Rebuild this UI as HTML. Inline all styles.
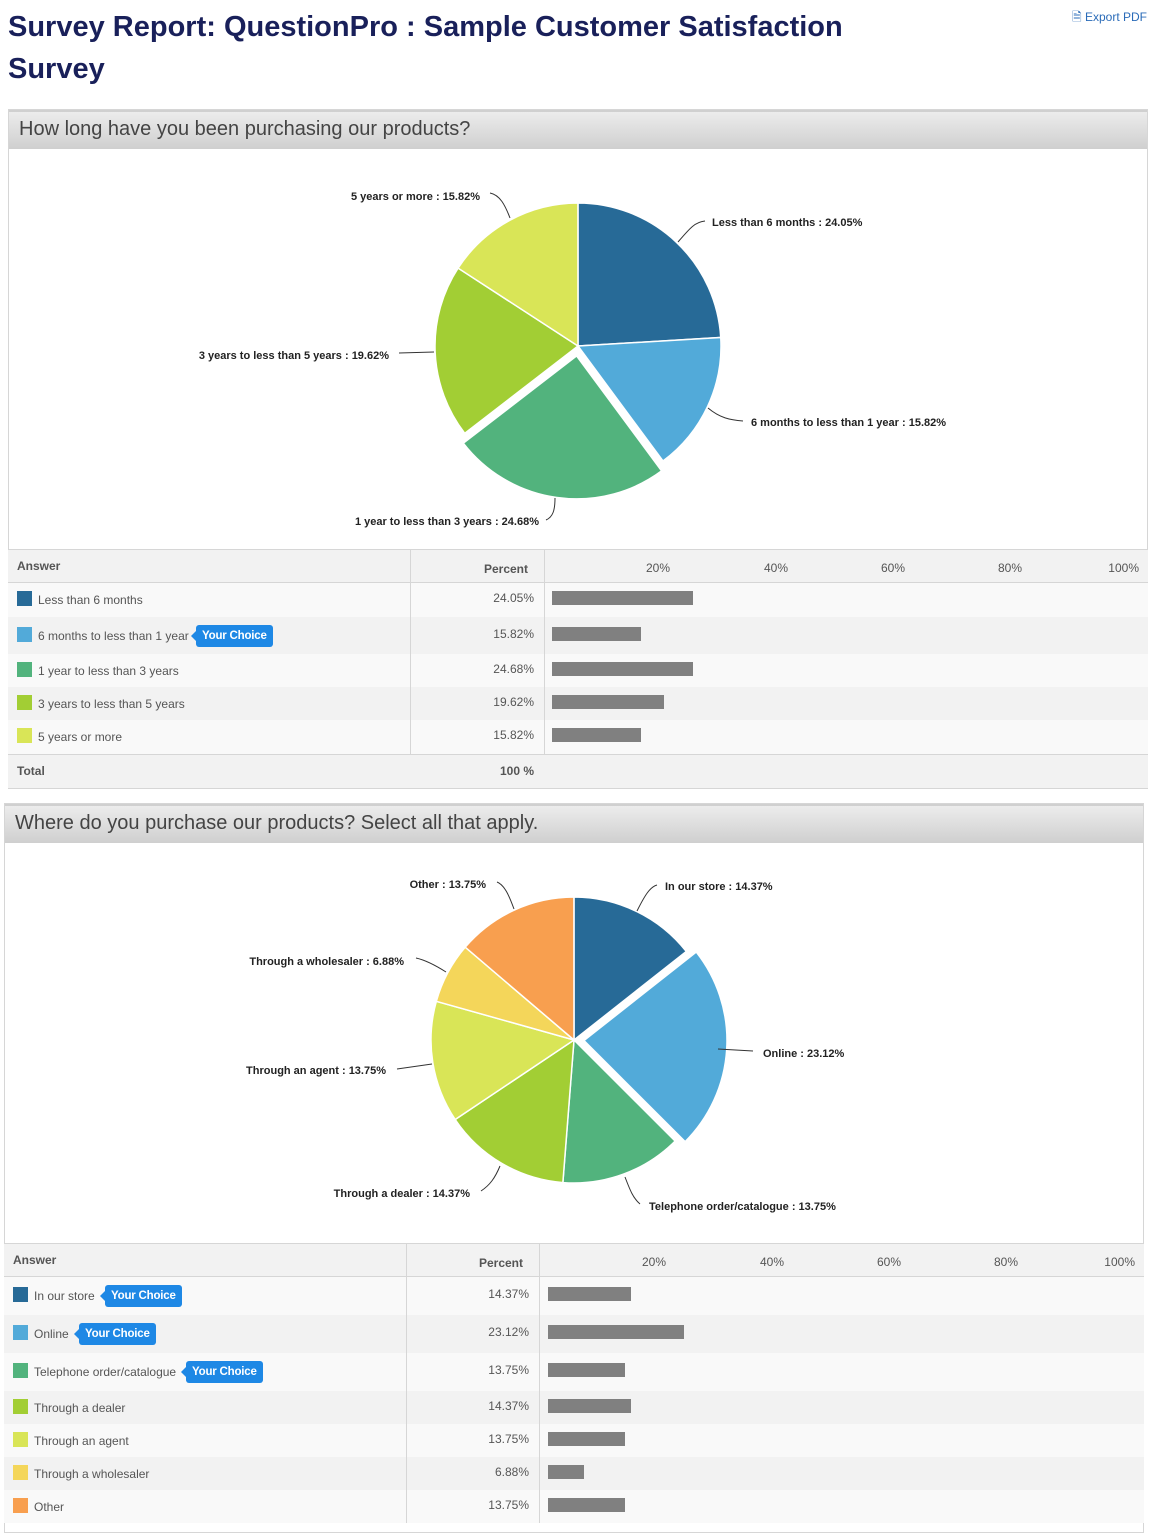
<!DOCTYPE html>
<html><head><meta charset="utf-8"><style>
*{box-sizing:border-box}
body{margin:0;width:1155px;height:1528px;background:#fff;font-family:"Liberation Sans",Arial,sans-serif;position:relative;overflow:hidden}
.abs{position:absolute}
h1{position:absolute;left:8px;top:6px;margin:0;font-size:29px;line-height:42px;color:#19205a;font-weight:bold;width:900px}
.exp{position:absolute;right:8px;top:8px;font-size:12px;color:#2a6bb8}
.box{position:absolute;border:1px solid #d6d6d6;background:#fff}
.qh{position:absolute;left:0;right:0;top:0;height:39px;background:linear-gradient(#ececec,#cfcfcf);border-top:2px solid #d0d0d0;font-size:20px;color:#444;padding:3px 10px;line-height:28px}
.sw{position:absolute;width:15px;height:15px}
.lab{position:absolute;white-space:nowrap}
.pct{position:absolute;text-align:right}
.bar{position:absolute;height:14px;background:#808080}
.vl{position:absolute;width:1px;background:#d6d6d6}
.yc{position:absolute;background:#1e88e5;color:#fff;font-weight:bold;font-size:11.5px;border-radius:3px;padding:0 6px;height:22px;line-height:22px;letter-spacing:-0.2px}
.yc:before{content:"";position:absolute;left:-5px;top:6px;border-right:5px solid #1e88e5;border-top:5px solid transparent;border-bottom:5px solid transparent}
.tick{position:absolute;font-size:12px;color:#555;width:60px;text-align:right}
svg text{font-family:"Liberation Sans",Arial,sans-serif;font-size:11px;font-weight:bold;fill:#222}
</style></head><body>
<h1>Survey Report: QuestionPro : Sample Customer Satisfaction Survey</h1>
<div class="exp">&#128462; Export PDF</div>

<div class="box" style="left:8px;top:109px;width:1140px;height:680px">
 <div class="qh">How long have you been purchasing our products?</div>
</div>
<div class="box" style="left:4px;top:803px;width:1140px;height:730px">
 <div class="qh">Where do you purchase our products? Select all that apply.</div>
</div>

<svg id="s" class="abs" style="left:0;top:0" width="1155" height="1528"></svg>

<div id="t"></div>

<script>
var svg=document.getElementById('s'),NS='http://www.w3.org/2000/svg';
function el(n,a,p){var e=document.createElementNS(NS,n);for(var k in a)e.setAttribute(k,a[k]);(p||svg).appendChild(e);return e}
function pie(cx,cy,r,data){var a=-Math.PI/2;data.forEach(function(d){var s=d[1]/100*2*Math.PI,a2=a+s,m=a+s/2,ox=0,oy=0;if(d[2]){ox=10*Math.cos(m);oy=10*Math.sin(m)}
var x=cx+ox,y=cy+oy;var p='M'+x+','+y+'L'+(x+r*Math.cos(a))+','+(y+r*Math.sin(a))+'A'+r+','+r+' 0 '+(s>Math.PI?1:0)+' 1 '+(x+r*Math.cos(a2))+','+(y+r*Math.sin(a2))+'Z';
el('path',{d:p,fill:d[0],stroke:'#fff','stroke-width':1.5});a=a2})}
pie(578,346,143,[['#276a97',24.05],['#52aad9',15.82],['#52b37d',24.68,1],['#a2ce34',19.62],['#d9e557',15.82]]);
pie(574,1040,143,[['#276a97',14.37],['#52aad9',23.12,1],['#52b37d',13.75],['#a2ce34',14.37],['#d9e557',13.75],['#f4d65a',6.88],['#f89f4f',13.75]]);
function L(d){el('path',{d:d,fill:'none',stroke:'#333','stroke-width':1})}
function T(x,y,s,a){var t=el('text',{x:x,y:y,'text-anchor':a||'start'});t.textContent=s}
L('M490,193 C500,195 505,205 510,218');T(480,200,'5 years or more : 15.82%','end');
L('M678,242 C690,228 695,222 705,221');T(712,226,'Less than 6 months : 24.05%');
L('M399,353 L434,352');T(389,359,'3 years to less than 5 years : 19.62%','end');
L('M708,408 C720,418 730,420 743,421');T(751,426,'6 months to less than 1 year : 15.82%');
L('M555,498 C555,510 553,517 546,520');T(539,525,'1 year to less than 3 years : 24.68%','end');
L('M497,882 C505,885 510,898 514,909');T(486,888,'Other : 13.75%','end');
L('M637,911 C645,895 650,887 657,885');T(665,890,'In our store : 14.37%');
L('M416,958 C425,960 435,965 446,972');T(404,965,'Through a wholesaler : 6.88%','end');
L('M718,1049 L753,1051');T(763,1057,'Online : 23.12%');
L('M397,1069 L432,1064');T(386,1074,'Through an agent : 13.75%','end');
L('M481,1191 C490,1185 495,1178 500,1166');T(470,1197,'Through a dealer : 14.37%','end');
L('M625,1177 C630,1190 633,1198 640,1204');T(649,1210,'Telephone order/catalogue : 13.75%');

var h='';
function table(x0,w,top,c1,c2,bx,ticks,rows,total){
 var hh=34;
 h+='<div class="abs" style="left:'+x0+'px;top:'+top+'px;width:'+w+'px;height:'+hh+'px;background:#f2f2f2;border-top:1px solid #d6d6d6;border-bottom:1px solid #d6d6d6"></div>';
 h+='<div class="lab" style="left:'+(x0+9)+'px;top:'+(top+10)+'px;font-size:12px;font-weight:bold;color:#555">Answer</div>';
 h+='<div class="pct" style="left:'+(c2-72)+'px;width:56px;top:'+(top+13)+'px;font-size:12px;font-weight:bold;color:#555">Percent</div>';
 ['20%','40%','60%','80%','100%'].forEach(function(s,i){h+='<div class="tick" style="left:'+(ticks[i]-60)+'px;top:'+(top+12)+'px">'+s+'</div>'});
 var y=top+hh;
 rows.forEach(function(r,i){var rh=r[4];
  h+='<div class="abs" style="left:'+x0+'px;top:'+y+'px;width:'+w+'px;height:'+rh+'px;background:'+(i%2?'#f2f2f2':'#f9f9f9')+'"></div>';
  var cy=y+rh/2;
  h+='<div class="sw" style="left:'+(x0+9)+'px;top:'+(cy-9)+'px;background:'+r[0]+'"></div>';
  h+='<div class="lab" style="left:'+(x0+30)+'px;top:'+(cy-7)+'px;font-size:12px;color:#555">'+r[1]+'</div>';
  if(r[3])h+='<div class="yc" style="left:'+r[3]+'px;top:'+(cy-11)+'px">Your Choice</div>';
  h+='<div class="pct" style="left:'+(c2-72)+'px;width:62px;top:'+(cy-9)+'px;font-size:12px;color:#555">'+r[2].toFixed(2)+'%</div>';
  h+='<div class="bar" style="left:'+bx+'px;top:'+(cy-9)+'px;width:'+r[5]+'px"></div>';
  y+=rh});
 if(total){h+='<div class="abs" style="left:'+x0+'px;top:'+y+'px;width:'+w+'px;height:34px;background:#f2f2f2;border-top:1px solid #d6d6d6"></div>';
  h+='<div class="lab" style="left:'+(x0+9)+'px;top:'+(y+10)+'px;font-size:12px;font-weight:bold;color:#555">Total</div>';
  h+='<div class="pct" style="left:'+(c2-72)+'px;width:62px;top:'+(y+10)+'px;font-size:12px;font-weight:bold;color:#555">100 %</div>';}
 h+='<div class="vl" style="left:'+c1+'px;top:'+top+'px;height:'+(y-top)+'px"></div>';
 h+='<div class="vl" style="left:'+c2+'px;top:'+top+'px;height:'+(y-top)+'px"></div>';
}
table(8,1140,549,410,544,552,[670,788,905,1022,1139],[
 ['#276a97','Less than 6 months',24.05,0,34,141],
 ['#52aad9','6 months to less than 1 year',15.82,196,37,89],
 ['#52b37d','1 year to less than 3 years',24.68,0,33,141],
 ['#a2ce34','3 years to less than 5 years',19.62,0,33,112],
 ['#d9e557','5 years or more',15.82,0,34,89]],1);
table(4,1140,1243,406,539,548,[666,784,901,1018,1135],[
 ['#276a97','In our store',14.37,105,38,83],
 ['#52aad9','Online',23.12,79,38,136],
 ['#52b37d','Telephone order/catalogue',13.75,186,38,77],
 ['#a2ce34','Through a dealer',14.37,0,33,83],
 ['#d9e557','Through an agent',13.75,0,33,77],
 ['#f4d65a','Through a wholesaler',6.88,0,33,36],
 ['#f89f4f','Other',13.75,0,33,77]],0);
document.getElementById('t').innerHTML=h;
</script>
</body></html>
